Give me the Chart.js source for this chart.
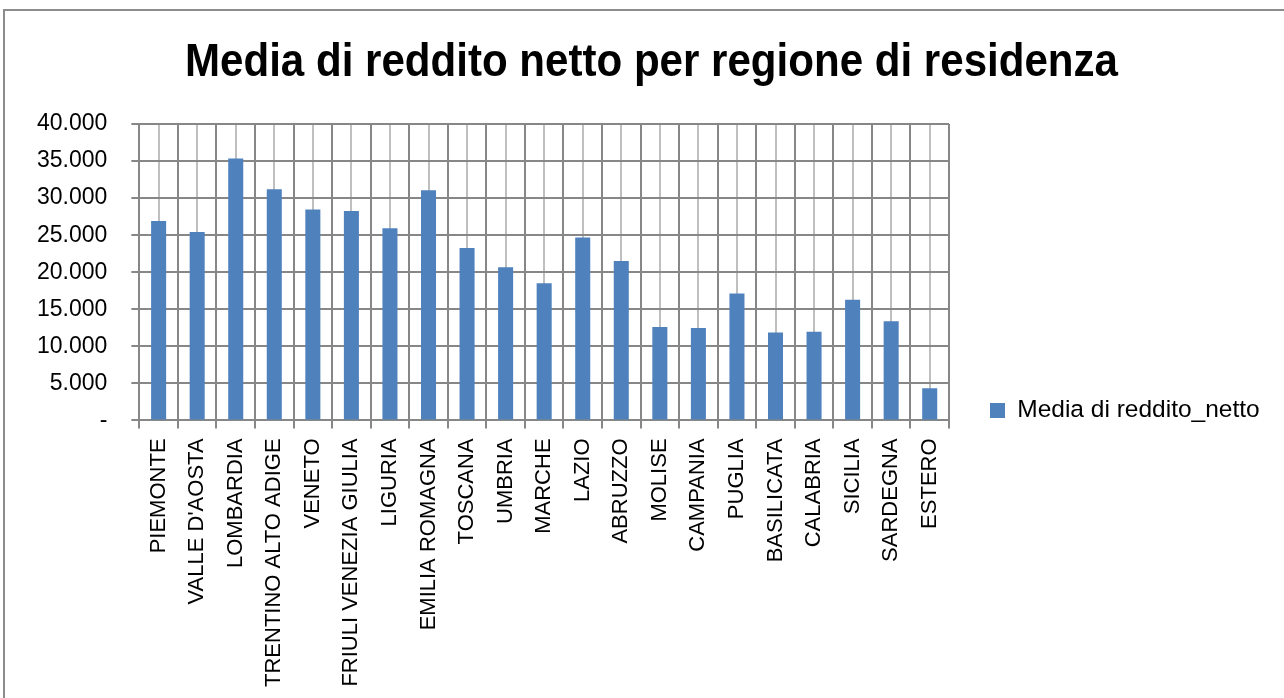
<!DOCTYPE html>
<html>
<head>
<meta charset="utf-8">
<script src="https://cdn.jsdelivr.net/npm/chart.js@4.4.1/dist/chart.umd.min.js"></script>
<style>
  html, body { margin: 0; padding: 0; background: #fff; }
  #wrap { position: relative; width: 1284px; height: 698px; overflow: hidden; }
  #frame { position: absolute; left: 3px; top: 9px; width: 1400px; height: 800px; border: 2px solid #8c8c8c; }
  canvas { position: absolute; left: 0; top: 0; }
</style>
</head>
<body>
<div id="wrap">
  <div id="frame"></div>
  <canvas id="chart" width="1284" height="698"></canvas>
</div>
<script>
const regioni = [
  "PIEMONTE", "VALLE D'AOSTA", "LOMBARDIA", "TRENTINO ALTO ADIGE", "VENETO",
  "FRIULI VENEZIA GIULIA", "LIGURIA", "EMILIA ROMAGNA", "TOSCANA", "UMBRIA",
  "MARCHE", "LAZIO", "ABRUZZO", "MOLISE", "CAMPANIA", "PUGLIA", "BASILICATA",
  "CALABRIA", "SICILIA", "SARDEGNA", "ESTERO"
];
const mediaReddito = [
  26900, 25420, 35330, 31200, 28470,
  28270, 25920, 31070, 23270, 20670,
  18520, 24700, 21520, 12600, 12470, 17130, 11880,
  11970, 16270, 13400, 4350
];
const yTicks = [0, 5000, 10000, 15000, 20000, 25000, 30000, 35000, 40000];

const titolo = "Media di reddito netto per regione di residenza";
const nomeSerie = "Media di reddito_netto";

function formatTick(v) {
  if (v === 0) return "-";
  return v.toString().replace(/\B(?=(\d{3})+(?!\d))/g, ".");
}

// titolo in stile "narrow": testo vero, compresso in orizzontale
const titoloStretto = {
  id: "titoloStretto",
  afterDraw(chart) {
    const c = chart.ctx;
    c.save();
    c.font = "bold 47px 'Liberation Sans'";
    c.fillStyle = "#000";
    c.textAlign = "center";
    c.textBaseline = "alphabetic";
    const w = c.measureText(titolo).width;
    const sx = 933 / w;
    c.translate(651.5, 76);
    c.scale(sx, 1);
    c.fillText(titolo, 0, 0);
    c.restore();
  }
};

// spazi in coda: la legenda arriva alla larghezza massima e non taglia il testo
function etichetteLegenda(chart) {
  const items = Chart.defaults.plugins.legend.labels.generateLabels(chart);
  items.forEach(it => { it.text = it.text + "    "; });
  return items;
}

const ctx = document.getElementById("chart").getContext("2d");

new Chart(ctx, {
  type: "bar",
  data: {
    labels: regioni,
    datasets: [{
      label: nomeSerie,
      data: mediaReddito,
      backgroundColor: "#4f81bd",
      borderWidth: 0,
      barPercentage: 0.78,
      categoryPercentage: 0.5
    }]
  },
  plugins: [titoloStretto],
  options: {
    responsive: false,
    animation: false,
    layout: { padding: { left: 13, right: 23, top: 124, bottom: 1 } },
    plugins: {
      title: { display: false },
      legend: {
        position: "right",
        align: "center",
        labels: {
          color: "#000",
          boxWidth: 15,
          boxHeight: 15,
          padding: 41,
          generateLabels: etichetteLegenda,
          font: { family: "Liberation Sans", size: 24.5 }
        }
      },
      tooltip: { enabled: false }
    },
    scales: {
      x2: {
        type: "category",
        position: "bottom",
        offset: true,
        z: -1,
        grid: { offset: false, color: "#bfbfbf", lineWidth: 2, drawTicks: false },
        border: { display: false },
        ticks: { display: false },
        afterFit: s => { s.height = 0; }
      },
      x: {
        grid: { offset: true, color: "#878787", lineWidth: 2, tickLength: 8 },
        border: { color: "#878787", width: 2 },
        ticks: {
          color: "#000",
          autoSkip: false,
          maxRotation: 90,
          minRotation: 90,
          padding: 10,
          font: { family: "Liberation Sans", size: 22 }
        }
      },
      y: {
        min: 0,
        max: 40000,
        afterBuildTicks: s => { s.ticks = yTicks.map(v => ({ value: v })); },
        grid: { color: "#878787", lineWidth: 2, tickLength: 8 },
        border: { color: "#878787", width: 2 },
        ticks: {
          color: "#000",
          padding: 24,
          callback: v => formatTick(v),
          font: { family: "Liberation Sans", size: 23 }
        }
      }
    }
  }
});
</script>
</body>
</html>
